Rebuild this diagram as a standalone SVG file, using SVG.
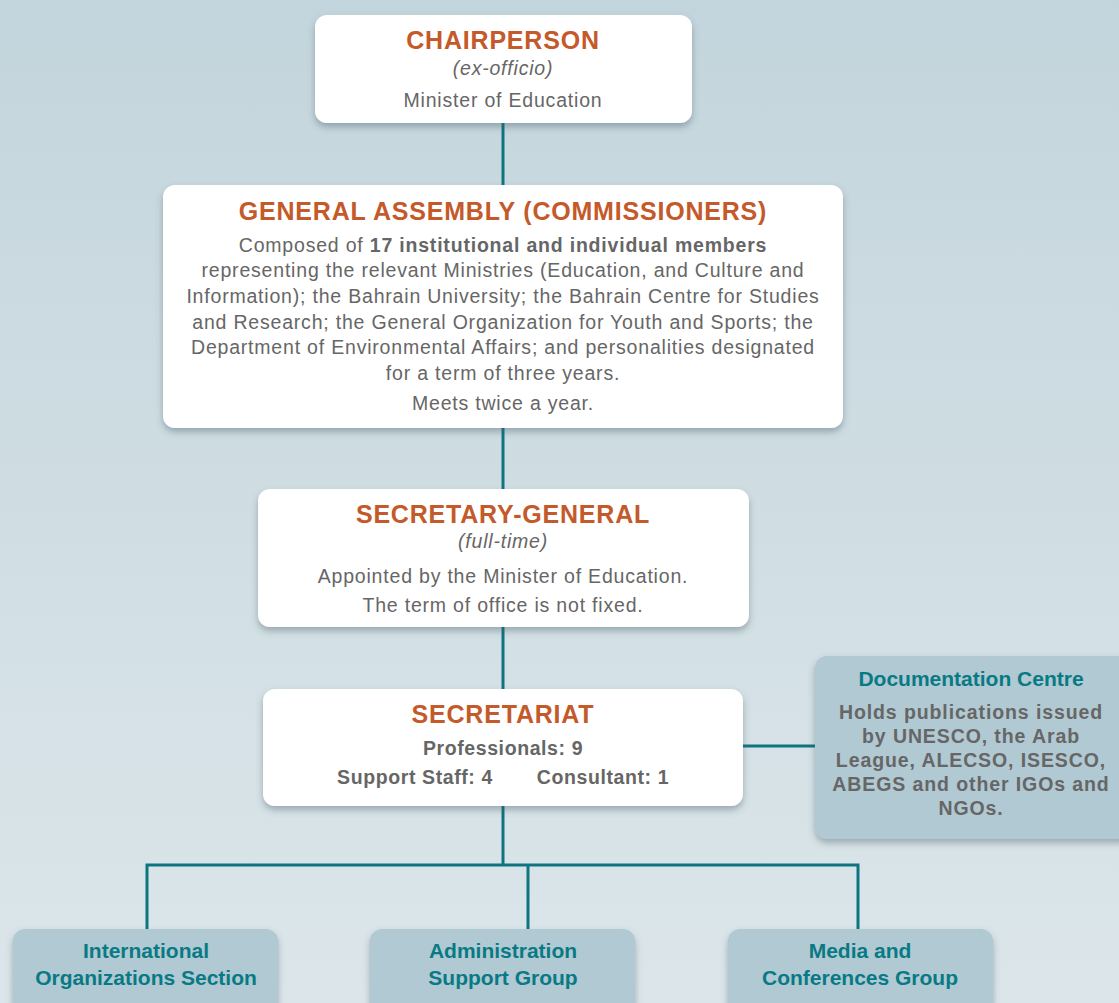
<svg xmlns="http://www.w3.org/2000/svg" width="1119" height="1003" viewBox="0 0 1119 1003">
<defs>
<linearGradient id="bg" x1="0" y1="0" x2="0" y2="1">
<stop offset="0" stop-color="#c3d5dc"/>
<stop offset="1" stop-color="#dce6ea"/>
</linearGradient>
<filter id="sh" x="-10%" y="-10%" width="120%" height="130%">
<feDropShadow dx="0" dy="4" stdDeviation="3.5" flood-color="#3d5560" flood-opacity="0.4"/>
</filter>
</defs>
<style>
.w{fill:#ffffff;filter:url(#sh)}
.b{fill:#b1c9d2;filter:url(#sh)}
text{font-family:"Liberation Sans",Arial,sans-serif;text-anchor:middle}
.t{fill:#c4592a;font-weight:bold;font-size:25px;letter-spacing:0.8px}
.g{fill:#666666;font-size:19.5px;letter-spacing:0.8px}
.i{fill:#666666;font-size:19.5px;font-style:italic;letter-spacing:0.8px}
.gb{fill:#666666;font-size:19.5px;font-weight:bold;letter-spacing:0.6px}
.db{fill:#666666;font-size:19.5px;font-weight:bold;letter-spacing:0.9px}
.tl{fill:#087a85;font-weight:bold;font-size:21px}
.c{stroke:#0e7480;stroke-width:3;fill:none}
</style>
<rect width="1119" height="1003" fill="url(#bg)"/>
<g id="connectors">
<line class="c" x1="503" y1="120" x2="503" y2="188"/>
<line class="c" x1="503" y1="425" x2="503" y2="492"/>
<line class="c" x1="503" y1="624" x2="503" y2="692"/>
<line class="c" x1="503" y1="803" x2="503" y2="865"/>
<polyline class="c" points="147,932 147,865 858,865 858,932"/>
<line class="c" x1="528" y1="865" x2="528" y2="932"/>
<line class="c" x1="740" y1="746" x2="818" y2="746"/>
</g>
<g id="chairperson">
<rect class="w" x="315" y="15" width="377" height="108" rx="12"/>
<text class="t" x="503" y="49">CHAIRPERSON</text>
<text class="i" x="503" y="75">(ex-officio)</text>
<text class="g" x="503" y="107">Minister of Education</text>
</g>
<g id="general-assembly">
<rect class="w" x="163" y="185" width="680" height="243" rx="12"/>
<text class="t" x="503" y="220">GENERAL ASSEMBLY (COMMISSIONERS)</text>
<text class="g" x="503" y="252">Composed of <tspan font-weight="bold">17 institutional and individual members</tspan></text>
<text class="g" x="503" y="277">representing the relevant Ministries (Education, and Culture and</text>
<text class="g" x="503" y="303">Information); the Bahrain University; the Bahrain Centre for Studies</text>
<text class="g" x="503" y="329">and Research; the General Organization for Youth and Sports; the</text>
<text class="g" x="503" y="354">Department of Environmental Affairs; and personalities designated</text>
<text class="g" x="503" y="380">for a term of three years.</text>
<text class="g" x="503" y="410">Meets twice a year.</text>
</g>
<g id="secretary-general">
<rect class="w" x="258" y="489" width="491" height="138" rx="12"/>
<text class="t" x="503" y="523">SECRETARY-GENERAL</text>
<text class="i" x="503" y="548">(full-time)</text>
<text class="g" x="503" y="583">Appointed by the Minister of Education.</text>
<text class="g" x="503" y="612">The term of office is not fixed.</text>
</g>
<g id="secretariat">
<rect class="w" x="263" y="689" width="480" height="117" rx="12"/>
<text class="t" x="503" y="723">SECRETARIAT</text>
<text class="gb" x="503" y="755">Professionals: 9</text>
<text class="gb" x="415" y="784">Support Staff: 4</text>
<text class="gb" x="603" y="784">Consultant: 1</text>
</g>
<g id="documentation-centre">
<rect class="b" x="815" y="656" width="320" height="183" rx="12"/>
<text class="tl" x="971" y="686" font-size="20">Documentation Centre</text>
<text class="db" x="971" y="719">Holds publications issued</text>
<text class="db" x="971" y="743">by UNESCO, the Arab</text>
<text class="db" x="971" y="767">League, ALECSO, ISESCO,</text>
<text class="db" x="971" y="791">ABEGS and other IGOs and</text>
<text class="db" x="971" y="815">NGOs.</text>
</g>
<g id="international-organizations">
<rect class="b" x="13" y="929" width="265" height="90" rx="12"/>
<text class="tl" x="146" y="958">International</text>
<text class="tl" x="146" y="985">Organizations Section</text>
</g>
<g id="administration-support">
<rect class="b" x="370" y="929" width="265" height="90" rx="12"/>
<text class="tl" x="503" y="958">Administration</text>
<text class="tl" x="503" y="985">Support Group</text>
</g>
<g id="media-conferences">
<rect class="b" x="728" y="929" width="265" height="90" rx="12"/>
<text class="tl" x="860" y="958">Media and</text>
<text class="tl" x="860" y="985">Conferences Group</text>
</g>
</svg>
